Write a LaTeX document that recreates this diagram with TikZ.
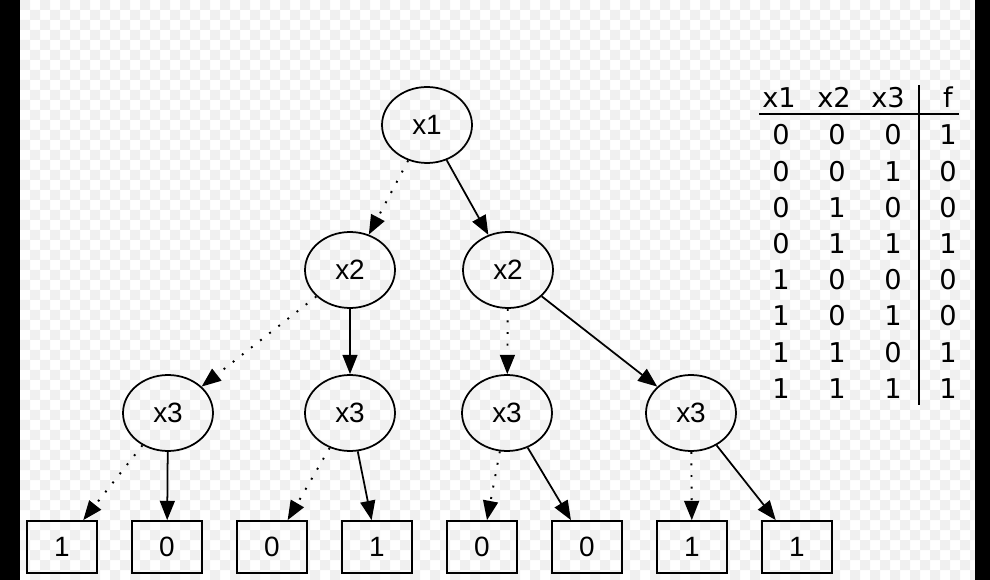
\documentclass[tikz,border=0pt]{standalone}
\usepackage{fontspec}
\setmainfont{Liberation Sans}
\newfontfamily\tablefont{DejaVu Sans}
\usepackage{xcolor}
\usetikzlibrary{positioning,arrows.meta,shapes.geometric}
\definecolor{checker}{HTML}{F0F0F0}

\tikzset{
  var/.style={ellipse, draw, line width=1pt, inner sep=0pt, minimum width=1.8cm, minimum height=1.52cm, font=\fontsize{15.9}{19}\selectfont},
  leaf/.style={rectangle, draw, line width=1pt, inner sep=0pt, minimum width=1.4cm, minimum height=1.04cm, font=\fontsize{15.9}{19}\selectfont},
  hi/.style={-{Triangle[length=11pt,width=8.5pt]}, line width=1pt},
  lo/.style={-{Triangle[length=11pt,width=8.5pt]}, line width=1.1pt, dash pattern=on 1.1pt off 5.5pt},
  cell/.style={anchor=base, inner sep=0pt, font=\tablefont\fontsize{15.5}{18}\selectfont}
}

\begin{document}
\begin{tikzpicture}[x=0.02cm, y=-0.02cm]
\useasboundingbox (0,0) rectangle (990,580);
% background
\fill[white] (0,0) rectangle (990,580);
\foreach \j in {0,...,57} {
  \pgfmathsetmacro\off{mod(\j,2)*10}
  \fill[checker] \foreach \i in {0,...,47} { (20+\off+\i*20,\j*10) rectangle ++(10,10) };
}
\fill[black] (0,0) rectangle (20,580);
\fill[black] (975,0) rectangle (990,580);

% decision tree
\node[var] (n1) at (427,125) {x1};
\node[var] (n2l) at (350,270) {x2};
\node[var] (n2r) at (508,270) {x2};
\node[var] (n3a) at (168,413) {x3};
\node[var] (n3b) at (350,413) {x3};
\node[var] (n3c) at (507,413) {x3};
\node[var] (n3d) at (691,413) {x3};
\foreach \v [count=\k] in {1,0,0,1,0,0,1,1}
  \node[leaf] (t\k) at ({62+105*(\k-1)},547) {\v};

\draw[lo] (n1) -- (n2l);
\draw[hi] (n1) -- (n2r);
\draw[lo] (n2l) -- (n3a);
\draw[hi] (n2l) -- (n3b);
\draw[lo] (n2r) -- (n3c);
\draw[hi] (n2r) -- (n3d);
\draw[lo] (n3a) -- (t1);
\draw[hi] (n3a) -- (t2);
\draw[lo] (n3b) -- (t3);
\draw[hi] (n3b) -- (t4);
\draw[lo] (n3c) -- (t5);
\draw[hi] (n3c) -- (t6);
\draw[lo] (n3d) -- (t7);
\draw[hi] (n3d) -- (t8);

% truth table
\node[cell] (h1) at (779,108) {x1};
\node[cell] (h2) at (834,108) {x2};
\node[cell] (h3) at (888,108) {x3};
\node[cell] (hf) at (948,108) {f};
\foreach \a/\b/\c/\f [count=\r] in {0/0/0/1,0/0/1/0,0/1/0/0,0/1/1/1,1/0/0/0,1/0/1/0,1/1/0/1,1/1/1/1} {
  \node[cell] (r\r a) at (781,{145+36.2*(\r-1)}) {\a};
  \node[cell] (r\r b) at (837,{145+36.2*(\r-1)}) {\b};
  \node[cell] (r\r c) at (893,{145+36.2*(\r-1)}) {\c};
  \node[cell] (r\r f) at (948,{145+36.2*(\r-1)}) {\f};
}
\draw[line width=1pt] (759,114) -- (959,114);
\draw[line width=1pt] (919,85) -- (919,405);
\end{tikzpicture}
\end{document}
